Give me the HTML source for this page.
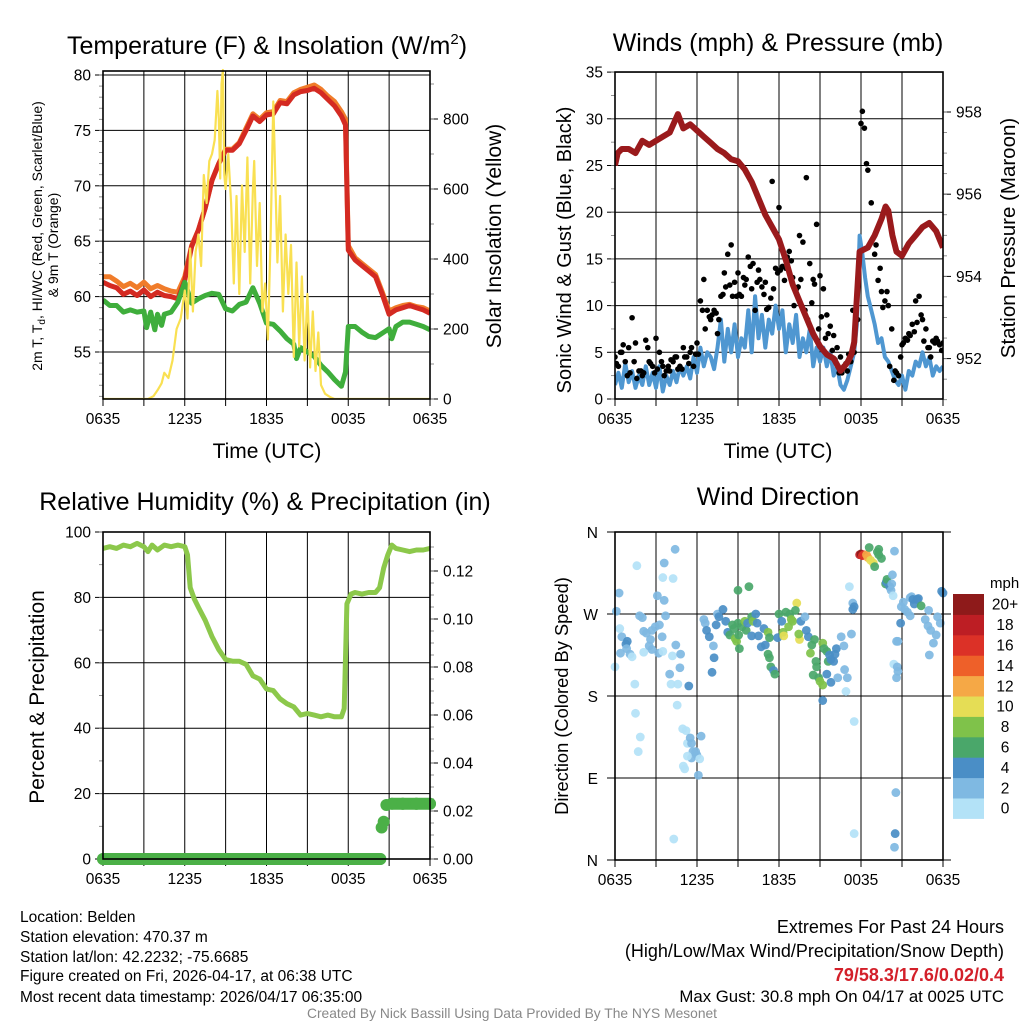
<!DOCTYPE html>
<html><head><meta charset="utf-8">
<style>
html,body{margin:0;padding:0;background:#fff;}
body{width:1024px;height:1024px;overflow:hidden;font-family:"Liberation Sans",sans-serif;}
svg text{font-family:"Liberation Sans",sans-serif;fill:#000;}
</style></head>
<body>
<svg id="root" width="1024" height="1024" viewBox="0 0 1024 1024" xmlns="http://www.w3.org/2000/svg">
<rect x="0" y="0" width="1024" height="1024" fill="#fff"/>
<g><text x="267" y="54" font-size="25" text-anchor="middle">Temperature (F) &amp; Insolation (W/m<tspan dy="-10" font-size="15">2</tspan><tspan dy="10">)</tspan></text></g>
<text x="778" y="51" font-size="25" text-anchor="middle">Winds (mph) &amp; Pressure (mb)</text>
<text x="265" y="510" font-size="25" text-anchor="middle">Relative Humidity (%) &amp; Precipitation (in)</text>
<text x="778" y="505" font-size="25" text-anchor="middle">Wind Direction</text>

<text x="267" y="458" font-size="21" text-anchor="middle">Time (UTC)</text>
<text x="778" y="458" font-size="21" text-anchor="middle">Time (UTC)</text>

<text transform="translate(42,236) rotate(-90)" font-size="14" text-anchor="middle">2m T, T<tspan dy="3" font-size="10">d</tspan><tspan dy="-3">, HI/WC (Red, Green, Scarlet/Blue)</tspan></text>
<text transform="translate(58,245) rotate(-90)" font-size="14" text-anchor="middle">&amp; 9m T (Orange)</text>
<text transform="translate(501,236) rotate(-90)" font-size="21" text-anchor="middle">Solar Insolation (Yellow)</text>
<text transform="translate(571,250) rotate(-90)" font-size="20" text-anchor="middle">Sonic Wind &amp; Gust (Blue, Black)</text>
<text transform="translate(1015,238) rotate(-90)" font-size="20.5" text-anchor="middle">Station Pressure (Maroon)</text>
<text transform="translate(44,697) rotate(-90)" font-size="21" text-anchor="middle">Percent &amp; Precipitation</text>
<text transform="translate(568,696) rotate(-90)" font-size="18.3" text-anchor="middle">Direction (Colored By Speed)</text>

<g id="p1"></g>
<g id="p2"></g>
<g id="p3"></g>
<g id="p4"></g>
<g id="cb"></g>

<g font-size="15.5">
<text x="20" y="922">Location: Belden</text>
<text x="20" y="942">Station elevation: 470.37 m</text>
<text x="20" y="962">Station lat/lon: 42.2232; -75.6685</text>
<text x="20" y="981">Figure created on Fri, 2026-04-17, at 06:38 UTC</text>
<text x="20" y="1002">Most recent data timestamp: 2026/04/17 06:35:00</text>
</g>
<g text-anchor="end">
<text x="1004" y="933" font-size="18">Extremes For Past 24 Hours</text>
<text x="1004" y="957" font-size="18">(High/Low/Max Wind/Precipitation/Snow Depth)</text>
<text x="1004" y="981" font-size="18" font-weight="bold" style="fill:#d3202a">79/58.3/17.6/0.02/0.4</text>
<text x="1004" y="1002" font-size="16.8">Max Gust: 30.8 mph On 04/17 at 0025 UTC</text>
</g>
<text x="512" y="1018" font-size="13.8" text-anchor="middle" style="fill:#888">Created By Nick Bassill Using Data Provided By The NYS Mesonet</text>
</svg>
<script>
// ---------- Data ----------
const timeLabels = ["0635","1235","1835","0035","0635"];
const tempTicks = [55,60,65,70,75,80];
const solarTicks = [0,200,400,600,800];
const windTicks = [0,5,10,15,20,25,30,35];
const presTicks = [952,954,956,958];
const rhTicks = [0,20,40,60,80,100];
const precipTicks = [0,0.02,0.04,0.06,0.08,0.10,0.12];
const precipTickLabels = ["0.00","0.02","0.04","0.06","0.08","0.10","0.12"];
const dirTicks = [0,90,180,270,360];
const dirTickLabels = ["N","E","S","W","N"];
const speedBinLabels = ["0","2","4","6","8","10","12","14","16","18","20+"];

const tempHours = [0,0.5,1,1.5,2,2.5,3,3.5,4,4.5,5,5.5,6,6.5,7,7.5,8,8.5,9,9.5,10,10.5,11,11.5,12,12.5,13,13.5,14,14.5,15,15.5,16,16.5,17,17.5,17.8,18,18.5,19,19.5,20,20.5,21,21.5,22,22.5,23,23.5,24];
const tempValues = [61.3,61,60.8,60.2,60.5,60.1,60.6,60,60.4,60.1,60,59.8,61.5,64.5,66,68,70.5,72,73.2,73.2,73.8,75,76.3,75.8,76.4,76.5,77.5,77.4,78.2,78.5,78.6,78.8,78.4,77.8,77.2,76.3,75.5,64.2,63.3,62.8,62.3,61.8,60.2,58.4,58.8,59,59.2,59,58.8,58.5];
const temp9mValues = [61.8,61.8,61.4,60.9,61.2,60.8,61.3,60.7,61,60.7,60.5,60.4,61.8,64.6,66,68,70.5,72,73.3,73.3,73.9,75.2,76.5,76,76.6,76.7,77.7,77.6,78.4,78.7,78.9,79.1,78.7,78.1,77.6,76.7,76,64.6,63.5,63,62.5,62,60.4,58.7,59,59.2,59.3,59.1,59,58.7];
const dewHours = [0,0.5,1,1.5,2,2.5,3,3.2,3.5,3.8,4,4.3,4.5,5,5.5,6,6.5,7,7.5,8,8.5,9,9.5,10,10.5,11,11.5,12,12.5,13,13.5,14,14.2,14.5,15,15.5,16,16.5,17,17.5,17.8,18,18.5,19,19.5,20,20.5,21,21.2,21.5,22,22.5,23,23.5,24];
const dewValues = [59.7,59.2,59.2,58.6,58.8,58.6,58.7,57.2,58.6,57,58.4,57.4,58.4,58.6,59.5,61.3,59.4,59.8,60.1,60.3,60.2,58.9,58.7,59.3,59.5,60.8,59.4,57.6,57.5,56.9,56.2,55.7,54.4,55.4,55,54.6,53.8,53.2,52.5,51.9,53.2,57.3,57.3,56.8,56.4,56.3,56.7,57.1,56.2,57.3,57.7,57.7,57.5,57.3,57];
const solarHours = [0,3.3,3.7,4,4.3,4.5,4.8,5.1,5.4,5.7,6,6.2,6.4,6.6,6.8,7,7.2,7.4,7.6,7.8,8,8.2,8.4,8.5,8.6,8.7,8.8,8.9,9.0,9.2,9.4,9.6,9.8,10,10.2,10.4,10.6,10.8,11,11.1,11.3,11.5,11.7,11.9,12.1,12.3,12.5,12.6,12.8,13,13.2,13.4,13.6,13.8,14,14.2,14.4,14.6,14.8,15,15.2,15.4,15.6,15.8,16,16.3,16.7,17,24];
const solarValues = [0,0,8,25,45,75,60,110,200,230,310,230,430,250,420,470,380,640,560,680,700,740,880,800,630,900,940,640,600,700,560,330,580,300,610,420,690,330,600,680,380,560,250,330,170,460,850,700,390,580,250,470,300,440,120,390,150,350,110,300,90,250,80,190,40,15,5,0,0];

const windHours = [0,0.25,0.5,0.75,1,1.25,1.5,1.75,2,2.25,2.5,2.75,3,3.25,3.5,3.75,4,4.25,4.5,4.75,5,5.25,5.5,5.75,6,6.25,6.5,6.75,7,7.25,7.5,7.75,8,8.25,8.5,8.75,9,9.25,9.5,9.75,10,10.25,10.5,10.75,11,11.25,11.5,11.75,12,12.25,12.5,12.75,13,13.25,13.5,13.75,14,14.25,14.5,14.75,15,15.25,15.5,15.75,16,16.25,16.5,16.75,17,17.25,17.5,17.7,17.9,18.1,18.3,18.5,18.75,19,19.25,19.5,19.75,20,20.25,20.5,20.75,21,21.25,21.5,21.75,22,22.25,22.5,22.75,23,23.25,23.5,23.75,24];
const windValues = [1.5,2.8,1.2,3.8,1.8,3,1.2,2.5,1.5,3.5,1.5,2.8,1.2,3.5,0.8,2.5,1.5,3,1.8,3.5,2.5,3.5,2.2,4.5,2.8,5.5,3.5,5,4.5,3.2,5.5,8.5,4,7.5,5,8,4.5,6.5,5.5,9.5,5,11,6.5,9,5.5,8.5,7,10,7.5,9.5,5,8,6,9,4.5,6.5,5,7.5,3.5,5.5,4,5.5,3.5,5,2.5,3.5,1.5,1,2,3.5,5,8,17.5,15.5,13,11,9.5,8,6,6.5,4.5,4,3,2,1.5,2.5,1,3,2.5,4,3.5,5,3.5,4.5,2.5,3.5,3,3.5];
const gustHours = [0,0.25,0.5,0.75,1,1.25,1.5,1.75,2,2.25,2.5,2.75,3,3.25,3.5,3.75,4,4.25,4.5,4.75,5,5.25,5.5,5.75,6,6.25,6.5,6.75,7,7.25,7.5,7.75,8,8.25,8.5,8.75,9,9.25,9.5,9.75,10,10.25,10.5,10.75,11,11.25,11.5,11.75,12,12.25,12.5,12.75,13,13.25,13.5,13.75,14,14.25,14.5,14.75,15,15.25,15.5,15.75,16,16.25,16.5,16.75,17,17.25,17.5,17.75,18,18.1,18.25,18.4,18.5,18.75,19,19.25,19.5,19.75,20,20.25,20.5,20.75,21,21.25,21.5,21.75,22,22.25,22.5,22.75,23,23.25,23.5,23.75,24,
  0.1,0.6,1.1,1.6,2.1,2.6,3.1,3.6,4.1,4.6,5.1,5.6,6.1,6.6,7.1,7.6,8.1,8.6,9.1,9.6,10.1,10.6,11.1,11.6,12.1,12.6,13.1,13.6,14.1,14.6,15.1,15.6,16.1,16.6,17.1,19.1,19.6,20.1,20.6,21.1,21.6,22.1,22.6,23.1,23.6,
  0.4,0.9,1.4,1.9,2.4,2.9,3.4,3.9,4.4,4.9,5.4,5.9,6.4,6.9,7.4,7.9,8.4,8.9,9.4,9.9,10.4,10.9,11.4,11.9,12.4,12.9,13.4,13.9,14.4,14.9,15.4,15.9,16.4,16.9,17.4,19.4,19.9,20.4,20.9,21.4,21.9,22.4,22.9,23.4,23.9];
const gustValues = [4.5,3.5,5,4,5.5,8.7,6,3,2.5,6.3,4,3.5,6.5,5,3.5,3,3,4,4.5,3.5,5.5,4.5,5,3.5,6,10.5,12.8,9.5,8.5,9.5,7,11,13.5,15.5,16.5,12.5,13.5,11,12.2,15.2,11.8,9.5,13.8,12,12.5,9.8,23.3,14,20.5,14.2,14,15.8,13,11.7,17.5,16.8,23.7,14.5,12.8,18.7,13.2,11.8,9,7.8,6.8,5.5,4.5,3.5,3,4,5,8.5,29.5,30.8,29,25.2,24.5,21,15.5,12.7,11.5,10.5,10,7.5,3,2.5,5.8,6.5,7,8,10.5,11,8.5,7.5,5.5,6.2,6.5,5.8,6,
  3.8,5.8,2.8,2.2,2.8,3.8,3.2,2.5,4.2,3.2,4.5,5.5,4.8,7.5,9,8.5,12,11,11.2,12.8,14.5,12.8,9.6,11.8,13.8,15.2,10,12.8,8.5,12.3,8.8,7,4.2,2.8,4.8,16.5,9.8,3.5,2.8,6,6.8,8.2,6.2,4.5,6.2,
  5,2.5,4,3,5.5,2.8,4,3.5,4.5,3.2,3.8,4.8,9.5,8.8,9.2,11.2,12.2,11,13,14.2,12.5,11.2,10.8,13.5,12.7,14.8,12,9.5,10.3,7.5,6.5,5.2,2.8,3.8,9.5,14,11.5,2,4.5,6.3,7.2,9,5.5,6,5.2];
const presHours = [0,0.2,0.5,1,1.5,2,2.5,3,3.5,4,4.6,5,5.5,6,6.5,7,7.5,8,8.5,9,9.5,10,10.5,11,11.5,12,12.5,13,13.5,14,14.5,15,15.5,16,16.5,17,17.3,17.5,17.7,17.9,18.5,19,19.5,19.8,20,20.3,20.6,21,21.5,22,22.5,23,23.5,24];
const presValues = [956.7,957.0,957.1,957.1,957.0,957.3,957.2,957.3,957.4,957.5,957.95,957.6,957.7,957.55,957.4,957.25,957.1,957.0,956.85,956.8,956.6,956.3,955.9,955.5,955.2,954.9,954.4,953.8,953.4,953.0,952.6,952.3,952.1,952.0,951.7,951.9,952.1,952.4,953.5,954.6,954.7,955.0,955.4,955.7,955.6,955.0,954.6,954.5,954.8,955.0,955.2,955.3,955.1,954.7];

const rhHours = [0,0.5,1,1.5,2,2.5,3,3.3,3.6,4,4.5,5,5.5,6,6.2,6.4,6.7,7,7.5,8,8.5,9,9.5,10,10.5,11,11.5,12,12.5,13,13.5,14,14.5,15,15.5,16,16.5,17,17.5,17.7,17.9,18.2,18.5,19,19.5,20,20.3,20.6,20.9,21.2,21.5,22,22.5,23,23.5,24];
const rhValues = [95,95.5,95,96,95.5,96.5,95.5,94,96,94.5,96,95.5,96,95.5,93,83,79.5,77,73,68,64,61,60.5,60.5,59.5,56,55,52,51.5,49,47.5,46.5,44,44.5,44,43.5,44,43.5,43.5,46,78,81,81.5,81,81.5,81.5,83,89,93,96,95,94.5,94,94.5,94.5,95];
const precipHours = [0,20.35,20.45,20.6,20.8,21.2,22,23,24];
const precipValues = [0,0,0.0131,0.0155,0.0225,0.023,0.023,0.023,0.023];

const dirHours = [0,0.1,0.3,0.35,0.5,0.8,0.9,0.85,0.4,1.1,1.25,1.45,1.6,1.5,1.85,1.7,1.8,2.0,2.1,2.1,2.3,2.6,2.7,2.95,2.7,2.5,3.1,3.25,3.45,3.6,3.6,3.7,3.2,3.5,4.2,3.5,4.25,4.4,4.0,4.1,4.6,4.45,4.8,4.75,4.3,4.55,5.4,4.95,5.2,5.3,5.5,5.6,5.7,5.9,5.6,5.3,6.0,6.2,6.1,6.3,5.0,5.1,
6.5,6.6,6.7,6.9,7.2,7.25,7.1,7.4,7.5,7.6,7.9,8.1,8.25,8.4,8.6,8.7,8.8,8.9,9.0,9.05,9.1,9.0,9.3,9.5,9.6,9.7,9.8,10.0,10.1,10.0,10.3,10.4,10.5,10.7,10.9,11.0,11.2,11.3,11.2,11.3,11.4,11.6,11.7,11.9,12.0,12.2,12.3,12.35,12.5,12.7,12.8,12.9,13.0,13.3,13.2,13.5,13.45,13.6,13.9,14.0,14.15,14.4,14.3,14.6,14.7,14.75,14.9,15.0,15.2,14.5,15.2,15.3,15.5,15.6,15.5,15.7,15.8,15.8,16.0,16.1,16.2,16.3,16.55,16.75,16.8,16.9,17.0,15.2,17.3,17.15,17.4,17.5,17.4,17.5,17.5,
17.9,18.0,18.1,18.2,18.4,18.5,18.7,18.9,18.6,19.0,19.2,19.3,19.3,19.5,19.8,19.85,19.9,20.1,20.2,20.3,20.25,20.35,20.45,20.55,20.5,20.45,20.4,20.65,20.7,20.6,20.6,20.7,20.9,20.95,21.1,21.2,21.4,21.6,21.7,21.8,21.6,21.9,22.1,22.2,22.4,22.7,22.9,23.1,23.3,23.5,23.6,23.8,23.9,24.0,23.0,22.95];
const dirValues = [212,273,293,254,245,237,240,232,227,226,223,193,323,161,135,119,268,266,228,251,249,242,252,256,231,235,290,258,245,285,326,268,227,229,224,310,309,341,204,193,193,236,226,211,23,170,191,144,142,128,134,128,119,119,112,114,115,111,93,136,103,100,
264,260,252,245,235,222,206,258,270,267,275,262,250,247,258,254,243,240,260,247,232,296,256,262,252,260,300,267,262,246,270,260,246,234,254,236,250,244,226,222,212,208,204,244,270,262,250,246,272,256,270,264,262,282,274,242,248,262,267,252,245,236,227,242,218,212,200,196,192,203,238,232,229,218,204,225,195,220,218,226,232,200,245,235,209,185,200,175,248,300,282,278,275,152,29,
335,336,334,335,335,332,329,326,343,322,338,341,335,331,303,305,308,300,296,313,303,290,339,74,29,14,215,212,207,200,240,240,260,278,283,275,272,288,289,286,268,281,286,287,279,264,257,252,238,247,267,260,295,293,225,274];
const dirSpeeds = [1,2,3,1,2,4,4,3,2,2,1,1,1,1,1,1,2,2,1,2,2,2,2,2,2,2,2,2,2,2,2,2,3,1,1,1,1,2,2,1,1,2,2,2,1,1,4,1,1,1,3,2,2,2,2,1,2,1,3,2,1,1,
2,3,4,4,3,4,4,4,3,4,4,4,4,6,7,7,8,8,7,6,6,6,6,8,6,5,6,7,8,4,4,4,4,5,4,4,8,7,6,6,6,4,6,4,7,5,8,10,6,8,7,9,8,10,7,10,8,4,3,4,4,6,8,7,6,6,7,8,8,6,8,6,6,6,4,5,4,4,4,4,4,2,2,2,2,1,3,4,2,1,3,4,4,1,1,
18,20,17,16,13,12,10,10,7,7,6,7,6,6,6,5,6,4,3,3,2,1,2,2,4,2,1,3,3,2,2,3,4,3,3,2,2,2,3,4,2,4,4,4,6,2,2,2,3,3,2,2,4,4,2,2];
const speedColors = ["#b3e2f7","#7fb9e2","#4a8ec6","#4aa76a","#7fc24a","#e5dd55","#f5a846","#ee6029","#dc3127","#bd1e24","#8e1a1a"];

// ---------- Helpers ----------
const NS = "http://www.w3.org/2000/svg";
function el(parent, tag, attrs, name) {
  const e = document.createElementNS(NS, tag);
  for (const k in attrs) e.setAttribute(k, attrs[k]);
  
  
  parent.appendChild(e);
  return e;
}
function txt(parent, x, y, s, size, anchor, name) {
  const t = el(parent, "text", {x: x, y: y, "font-size": size, "text-anchor": anchor}, name);
  t.textContent = s;
  return t;
}
function linePath(hs, vs, sx, sy) {
  let d = "";
  for (let i = 0; i < hs.length; i++) d += (i ? "L" : "M") + sx(hs[i]).toFixed(1) + "," + sy(vs[i]).toFixed(1);
  return d;
}
function frame(g, L, R, T, B, xs, id) {
  for (let h = 0; h <= 24; h += 3) {
    el(g, "line", {x1: xs(h), x2: xs(h), y1: T, y2: B, stroke: "#000", "stroke-width": 1}, id + "-x-grid");
    el(g, "line", {x1: xs(h), x2: xs(h), y1: B, y2: B + 7, stroke: "#000", "stroke-width": 1}, id + "-x-tick");
  }
  for (let i = 0; i < timeLabels.length; i++) {
    txt(g, xs(i * 6), B + 25, timeLabels[i], 15.5, "middle", id + "-x-tick-label");
  }
}
function box(g, L, R, T, B, id) {
  el(g, "rect", {x: L, y: T, width: R - L, height: B - T, fill: "none", stroke: "#000", "stroke-width": 1.6}, id + "-frame");
}
function leftAxis(g, ticks, labels, ys, L, R, id, minorStep, lo, hi, grid) {
  for (let i = 0; i < ticks.length; i++) {
    const y = ys(ticks[i]);
    if (grid) el(g, "line", {x1: L, x2: R, y1: y, y2: y, stroke: "#000", "stroke-width": 1}, id + "-y-grid");
    el(g, "line", {x1: L - 8, x2: L, y1: y, y2: y, stroke: "#000", "stroke-width": 1}, id + "-y-tick");
    txt(g, L - 12, y + 5.5, labels[i], 15.5, "end", id + "-y-tick-label");
  }
  for (let v = lo; v <= hi + 1e-9; v += minorStep) {
    const y = ys(v);
    el(g, "line", {x1: L - 4, x2: L, y1: y, y2: y, stroke: "#777", "stroke-width": 0.8}, id + "-y-minor-tick");
  }
}
function rightAxis(g, ticks, labels, ys, R, id, minorStep, lo, hi) {
  for (let i = 0; i < ticks.length; i++) {
    const y = ys(ticks[i]);
    el(g, "line", {x1: R, x2: R + 8, y1: y, y2: y, stroke: "#000", "stroke-width": 1}, id + "-right-tick");
    txt(g, R + 13, y + 5.5, labels[i], 15.5, "start", id + "-right-tick-label");
  }
  for (let v = lo; v <= hi + 1e-9; v += minorStep) {
    const y = ys(v);
    el(g, "line", {x1: R, x2: R + 4, y1: y, y2: y, stroke: "#777", "stroke-width": 0.8}, id + "-right-minor-tick");
  }
}
const svg = document.getElementById("root");
const defs = el(svg, "defs", {}, "defs");

// ---------- Panel 1: temperature ----------
(function(){
  const g = document.getElementById("p1");
  const L = 103, R = 430, T = 71, B = 399;
  const xs = h => L + h * (R - L) / 24;
  const yT = t => 352 - (t - 55) * 11.08;
  const yS = s => B - s * 0.35;
  const cp = el(defs, "clipPath", {id: "c1"}, "temp-clip");
  el(cp, "rect", {x: L, y: T - 3, width: R - L, height: B - T + 3}, "temp-clip-rect");
  frame(g, L, R, T, B, xs, "temp");
  leftAxis(g, tempTicks, tempTicks.map(String), yT, L, R, "temp", 1, 51, 80, true);
  rightAxis(g, solarTicks, solarTicks.map(String), yS, R, "solar", 100, 0, 900);
  el(g, "line", {x1: L, x2: R, y1: T, y2: T, stroke: "#000", "stroke-width": 1}, "temp-top-line");
  const d = el(g, "g", {"clip-path": "url(#c1)"}, "temp-series");
  el(d, "path", {d: linePath(tempHours, temp9mValues, xs, yT), fill: "none", stroke: "#f07c2a", "stroke-width": 5, "stroke-linejoin": "round"}, "temp-9m-line");
  el(d, "path", {d: linePath(tempHours, tempValues, xs, yT), fill: "none", stroke: "#d42a22", "stroke-width": 5, "stroke-linejoin": "round"}, "temp-2m-line");
  el(d, "path", {d: linePath(dewHours, dewValues, xs, yT), fill: "none", stroke: "#3fae3c", "stroke-width": 5, "stroke-linejoin": "round"}, "dewpoint-line");
  el(d, "path", {d: linePath(solarHours, solarValues, xs, yS), fill: "none", stroke: "#f9e052", "stroke-width": 2.2, "stroke-linejoin": "round"}, "solar-line");
  box(g, L, R, T, B, "temp");
})();

// ---------- Panel 2: winds ----------
(function(){
  const g = document.getElementById("p2");
  const L = 615, R = 943, T = 72, B = 399;
  const xs = h => L + h * (R - L) / 24;
  const yW = w => B - w * 9.34;
  const yP = p => 112 + (958 - p) * 41.1;
  const cp = el(defs, "clipPath", {id: "c2"}, "wind-clip");
  el(cp, "rect", {x: L, y: T, width: R - L, height: B - T}, "wind-clip-rect");
  frame(g, L, R, T, B, xs, "wind");
  leftAxis(g, windTicks, windTicks.map(String), yW, L, R, "wind", 2.5, 0, 35, true);
  rightAxis(g, presTicks, presTicks.map(String), yP, R, "pressure", 0.5, 951, 958);
  const d = el(g, "g", {"clip-path": "url(#c2)"}, "wind-series");
  el(d, "path", {d: linePath(windHours, windValues, xs, yW), fill: "none", stroke: "#4f97d1", "stroke-width": 4, "stroke-linejoin": "round"}, "sonic-wind-line");
  for (let i = 0; i < gustHours.length; i++) {
    const c = el(d, "circle", {cx: xs(gustHours[i]), cy: yW(gustValues[i]), r: 2.8, fill: "#000"}, "gust-point");
    
  }
  el(d, "path", {d: linePath(presHours, presValues, xs, yP), fill: "none", stroke: "#9a1a1c", "stroke-width": 6, "stroke-linejoin": "round"}, "pressure-line");
  box(g, L, R, T, B, "wind");
})();

// ---------- Panel 3: humidity ----------
(function(){
  const g = document.getElementById("p3");
  const L = 103, R = 430, T = 532, B = 859;
  const xs = h => L + h * (R - L) / 24;
  const yR = r => B - r * 3.27;
  const yPc = v => B - v * 2400;
  frame(g, L, R, T, B, xs, "rh");
  leftAxis(g, rhTicks, rhTicks.map(String), yR, L, R, "rh", 10, 0, 100, true);
  rightAxis(g, precipTicks, precipTickLabels, yPc, R, "precip", 0.005, 0, 0.13);
  el(g, "path", {d: linePath(rhHours, rhValues, xs, yR), fill: "none", stroke: "#8cc84b", "stroke-width": 5, "stroke-linejoin": "round"}, "rh-line");
  for (let i = 1; i < precipHours.length; i++) {
    const v0 = precipValues[i - 1], v1 = precipValues[i];
    const h0 = precipHours[i - 1], h1 = precipHours[i];
    if (v0 === v1 && h1 - h0 > 0.3) {
      el(g, "line", {x1: xs(h0), x2: xs(h1), y1: yPc(v0), y2: yPc(v1), stroke: "#4bb047", "stroke-width": 12, "stroke-linecap": "round"}, "precip-line");
    }
  }
  for (let i = 0; i < precipHours.length; i++) {
    el(g, "circle", {cx: xs(precipHours[i]), cy: yPc(precipValues[i]), r: 6, fill: "#4bb047"}, "precip-point");
  }
  box(g, L, R, T, B, "rh");
})();

// ---------- Panel 4: wind direction ----------
(function(){
  const g = document.getElementById("p4");
  const L = 615, R = 943, T = 532, B = 860;
  const xs = h => L + h * (R - L) / 24;
  const yD = dd => B - dd * (B - T) / 360;
  frame(g, L, R, T, B, xs, "dir");
  for (let i = 0; i < dirTicks.length; i++) {
    const y = yD(dirTicks[i]);
    el(g, "line", {x1: L - 8, x2: R + 8, y1: y, y2: y, stroke: "#000", "stroke-width": 1}, "dir-y-grid");
    txt(g, L - 17, y + 6, dirTickLabels[i], 15.5, "end", "dir-y-tick-label");
  }
  for (let i = 0; i < dirHours.length; i++) {
    const bin = Math.min(10, Math.floor(dirSpeeds[i] / 2));
    el(g, "circle", {cx: xs(dirHours[i]), cy: yD(dirValues[i]), r: 4.4, fill: speedColors[bin], "fill-opacity": 0.92}, "direction-point");
  }
  box(g, L, R, T, B, "dir");
})();

// ---------- Colorbar ----------
(function(){
  const g = document.getElementById("cb");
  const x = 953, w = 31, top = 594, h = 20.4;
  txt(g, 990, 588, "mph", 15, "start", "colorbar-title");
  for (let i = 0; i < speedColors.length; i++) {
    const y = top + (10 - i) * h;
    el(g, "rect", {x: x, y: y, width: w, height: h + 0.5, fill: speedColors[i]}, "colorbar-box");
    txt(g, 1005, y + h / 2 + 5.5, speedBinLabels[i], 15.5, "middle", "colorbar-label");
  }
})();
</script>
</body></html>
